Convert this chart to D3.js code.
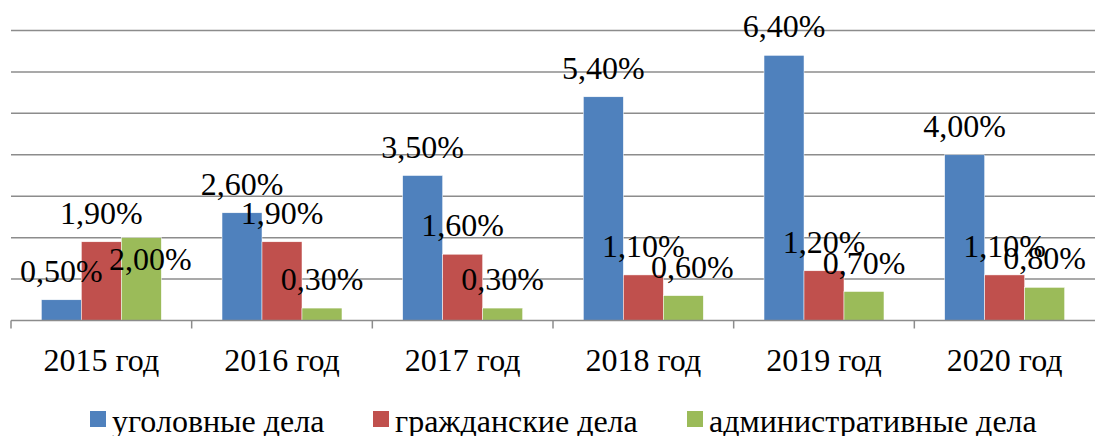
<!DOCTYPE html>
<html>
<head>
<meta charset="utf-8">
<script src="https://cdn.jsdelivr.net/npm/d3@7"></script>
<style>
	body { margin: 0; background: #fff; }
	svg { display: block; }
	text { font-family: "Liberation Serif", "Times New Roman", serif; }
</style>
</head>
<body>
<script>
const years = ["2015 год", "2016 год", "2017 год", "2018 год", "2019 год", "2020 год"];
const seriesNames = ["уголовные дела", "гражданские дела", "административные дела"];
const criminal = [0.5, 2.6, 3.5, 5.4, 6.4, 4.0];
const civil = [1.9, 1.9, 1.6, 1.1, 1.2, 1.1];
const administrative = [2.0, 0.3, 0.3, 0.6, 0.7, 0.8];
const colors = ["#4f81bd", "#c0504d", "#9bbb59"];
const yTicks = [1, 2, 3, 4, 5, 6, 7];

const width = 1098, height = 436;
const margin = {top: 30.5, right: 3, bottom: 115.5, left: 11};
const fontSize = 32;

const series = [criminal, civil, administrative];
const data = years.map((year, i) => ({
	year,
	values: series.map((s, k) => ({key: seriesNames[k], value: s[i], color: colors[k]}))
}));

const x0 = d3.scaleBand()
	.domain(years)
	.range([margin.left, width - margin.right])
	.paddingInner(0.336)
	.paddingOuter(0.168);

const x1 = d3.scaleBand()
	.domain(seriesNames)
	.range([0, x0.bandwidth()]);

const y = d3.scaleLinear()
	.domain([0, 7])
	.range([height - margin.bottom, margin.top]);

const svg = d3.select("body").append("svg")
	.attr("width", width)
	.attr("height", height);

// gridlines
svg.append("g")
		.attr("stroke", "#8c8c8c")
		.attr("stroke-width", 1.5)
	.selectAll("line")
	.data(yTicks)
	.join("line")
		.attr("x1", margin.left)
		.attr("x2", width - margin.right)
		.attr("y1", d => y(d))
		.attr("y2", d => y(d));

// bars
const groups = svg.append("g")
	.selectAll("g")
	.data(data)
	.join("g")
		.attr("transform", d => `translate(${x0(d.year)},0)`);

groups.selectAll("rect")
	.data(d => d.values)
	.join("rect")
		.attr("x", d => x1(d.key))
		.attr("y", d => y(d.value))
		.attr("width", x1.bandwidth())
		.attr("height", d => y(0) - y(d.value))
		.attr("fill", d => d.color)
		.attr("stroke", "#fff")
		.attr("stroke-width", 0.5);

// x axis
const step = x0.step();
const boundaries = years.map(d => x0(d) - step * x0.paddingInner() / 2);
const axis = svg.append("g")
	.attr("stroke", "#8c8c8c")
	.attr("stroke-width", 1.5);
axis.append("line")
	.attr("x1", margin.left)
	.attr("x2", width - margin.right)
	.attr("y1", y(0))
	.attr("y2", y(0));
axis.selectAll("line.tick")
	.data(boundaries)
	.join("line")
		.attr("class", "tick")
		.attr("x1", d => d)
		.attr("x2", d => d)
		.attr("y1", y(0))
		.attr("y2", y(0) + 8);

svg.append("g")
		.attr("font-size", fontSize)
		.attr("text-anchor", "middle")
		.attr("fill", "#000")
	.selectAll("text")
	.data(years)
	.join("text")
		.attr("x", d => x0(d) + x0.bandwidth() / 2)
		.attr("y", 371)
		.text(d => d);

// value labels; a label that sits almost on top of the previous one is pushed below it, like Excel does
groups.each(function (d) {
	let prevY = null;
	const pos = d.values.map(v => {
		let ly = y(v.value) - 18, dx = 0;
		if (prevY !== null && Math.abs(ly - prevY) < 10) { ly = prevY + 46; dx = 9; }
		else if (prevY !== null && Math.abs(ly - prevY) < 21 && v.value < 0.65) dx = 9;
		prevY = ly;
		return {v, ly, dx};
	});
	d3.select(this).selectAll("text")
		.data(pos)
		.join("text")
			.attr("font-size", fontSize)
			.attr("text-anchor", "middle")
			.attr("x", p => x1(p.v.key) + x1.bandwidth() / 2 + p.dx)
			.attr("y", p => p.ly)
			.text(p => p.v.value.toFixed(2).replace(".", ",") + "%");
});

// legend
const legendX = [90, 373, 687];
const legend = svg.append("g")
		.attr("font-size", fontSize)
	.selectAll("g")
	.data(seriesNames)
	.join("g")
		.attr("transform", (d, i) => `translate(${legendX[i]},411)`);

legend.append("rect")
	.attr("width", 16)
	.attr("height", 16)
	.attr("fill", (d, i) => colors[i]);

legend.append("text")
	.attr("x", 22)
	.attr("y", 21)
	.text(d => d);
</script>
</body>
</html>
